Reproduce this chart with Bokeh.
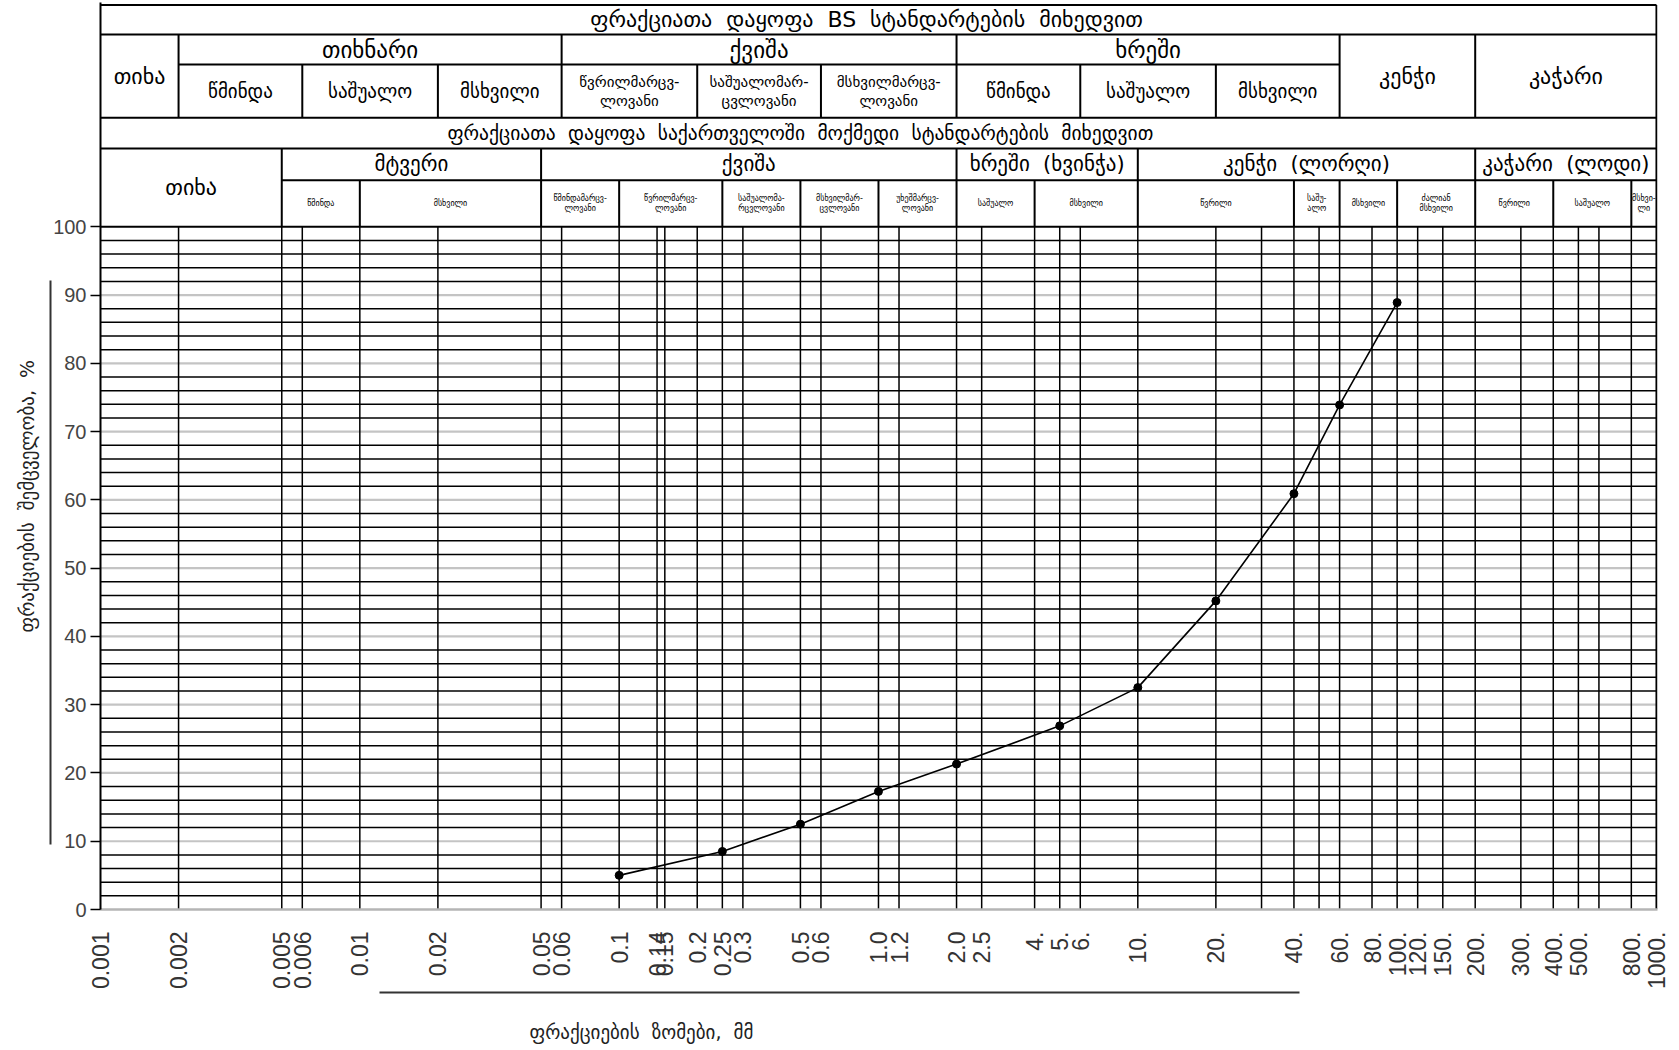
from math import pi
import numpy as np
from bokeh.plotting import figure
from bokeh.models import (Range1d, FixedTicker, ColumnDataSource, LogAxis, LinearAxis, Title)
from bokeh.core.properties import value
from bokeh.embed import file_html
from bokeh.resources import INLINE

# ---------------- data ----------------
size_mm = [0.1, 0.25, 0.5, 1.0, 2.0, 5.0, 10.0, 20.0, 40.0, 60.0, 100.0]
passing_pct = [5.0, 8.5, 12.5, 17.3, 21.3, 26.9, 32.5, 45.2, 60.9, 73.9, 88.9]

tick_values = [0.001, 0.002, 0.005, 0.006, 0.01, 0.02, 0.05, 0.06, 0.1, 0.14, 0.15,
               0.2, 0.25, 0.3, 0.5, 0.6, 1.0, 1.2, 2.0, 2.5, 4.0, 5.0, 6.0, 10.0,
               20.0, 40.0, 60.0, 80.0, 100.0, 120.0, 150.0, 200.0, 300.0, 400.0,
               500.0, 800.0, 1000.0]
tick_labels = ["0.001", "0.002", "0.005", "0.006", "0.01", "0.02", "0.05", "0.06",
               "0.1", "0.14", "0.15", "0.2", "0.25", "0.3", "0.5", "0.6", "1.0", "1.2",
               "2.0", "2.5", "4.", "5.", "6.", "10.", "20.", "40.", "60.", "80.",
               "100.", "120.", "150.", "200.", "300.", "400.", "500.", "800.", "1000."]
extra_grid_mm = [30.0, 50.0, 600.0]

pct_ticks = [0, 10, 20, 30, 40, 50, 60, 70, 80, 90, 100]
pct_labels = ["0", "10", "20", "30", "40", "50", "60", "70", "80", "90", "100"]

SP = "\u00a0\u00a0"
title_bs = SP.join(["ფრაქციათა", "დაყოფა", "BS", "სტანდარტების", "მიხედვით"])
title_ge = SP.join(["ფრაქციათა", "დაყოფა", "საქართველოში", "მოქმედი", "სტანდარტების", "მიხედვით"])
x_title = SP.join(["ფრაქციების", "ზომები,", "მმ"])
y_title = SP.join(["ფრაქციების", "შემცველობა,", "%"])

bs_single_names = ["თიხა", "კენჭი", "კაჭარი"]
bs_single_lo = [0.001, 60.0, 200.0]
bs_single_hi = [0.002, 200.0, 1000.0]
bs_group_names = ["თიხნარი", "ქვიშა", "ხრეში"]
bs_group_edges = [0.002, 0.06, 2.0, 60.0]
bs_sub_names = ["წმინდა", "საშუალო", "მსხვილი",
                "წვრილმარცვ-\nლოვანი", "საშუალომარ-\nცვლოვანი", "მსხვილმარცვ-\nლოვანი",
                "წმინდა", "საშუალო", "მსხვილი"]
bs_sub_edges = [0.002, 0.006, 0.02, 0.06, 0.2, 0.6, 2.0, 6.0, 20.0, 60.0]

ge_single_names = ["თიხა"]
ge_single_lo = [0.001]
ge_single_hi = [0.005]
ge_group_names = ["მტვერი", "ქვიშა", "ხრეში\u00a0\u00a0(ხვინჭა)", "კენჭი\u00a0\u00a0(ლორღი)",
                  "კაჭარი\u00a0\u00a0(ლოდი)"]
ge_group_edges = [0.005, 0.05, 2.0, 10.0, 200.0, 1000.0]
ge_sub_names = ["წმინდა", "მსხვილი",
                "წმინდამარცვ-\nლოვანი", "წვრილმარცვ-\nლოვანი", "საშუალომა-\nრცვლოვანი",
                "მსხვილმარ-\nცვლოვანი", "უხეშმარცვ-\nლოვანი",
                "საშუალო", "მსხვილი",
                "წვრილი", "საშუ-\nალო", "მსხვილი", "ძალიან\nმსხვილი",
                "წვრილი", "საშუალო", "მსხვი-\nლი"]
ge_sub_edges = [0.005, 0.01, 0.05, 0.1, 0.25, 0.5, 1.0, 2.0, 4.0, 10.0, 40.0, 60.0,
                100.0, 200.0, 400.0, 800.0, 1000.0]

# ---------------- layout constants ----------------
X_MIN, X_MAX = 0.001, 1000.0
Y_TOP = 132.85
ROW_TOP, ROW1, ROW2M, ROW2B, ROW3B, ROW4M, GRID_TOP = 132.5, 128.16, 123.77, 115.98, 111.48, 106.8, 100.0
GEO = "DejaVu Sans"
NUM = "'Liberation Sans Narrow', 'Liberation Sans', Arial, sans-serif"


def gmid(a, b):
    return float(np.sqrt(a * b))


p = figure(width=1671, height=1048, x_axis_type="log",
           x_range=Range1d(X_MIN, 10 ** 3.004), y_range=Range1d(0, Y_TOP),
           output_backend="svg", toolbar_location=None,
           min_border_left=97, min_border_right=14, min_border_top=2, min_border_bottom=138)
p.outline_line_color = None
p.xgrid.visible = False
p.ygrid.visible = False

# ---------- grid ----------
fine_y = [v for v in range(2, 100, 2) if v % 10]
gray_y = [v for v in range(10, 100, 10)]
p.segment(x0=[X_MIN] * len(gray_y), y0=gray_y, x1=[X_MAX] * len(gray_y), y1=gray_y,
          line_color="#c4c4c4", line_width=2.2)
p.segment(x0=[X_MIN] * len(fine_y), y0=fine_y, x1=[X_MAX] * len(fine_y), y1=fine_y,
          line_color="black", line_width=1.5)
vx = tick_values[1:-1] + extra_grid_mm
p.segment(x0=vx, y0=[0] * len(vx), x1=vx, y1=[GRID_TOP] * len(vx),
          line_color="black", line_width=1.5)

# ---------- header frame ----------
hx0, hy0, hx1, hy1 = [], [], [], []


def hline(y, a=X_MIN, b=X_MAX):
    hx0.append(a); hx1.append(b); hy0.append(y); hy1.append(y)


def vline(x, a, b):
    hx0.append(x); hx1.append(x); hy0.append(a); hy1.append(b)


for y in (ROW_TOP, ROW1, ROW2B, ROW3B, GRID_TOP):
    hline(y)
hline(ROW2M, bs_group_edges[0], bs_group_edges[-1])
hline(ROW4M, ge_group_edges[0], ge_group_edges[-1])
vline(X_MAX, 0, ROW_TOP)
for x in sorted(set(bs_single_lo[1:] + bs_group_edges)):
    vline(x, ROW2B, ROW1)
for x in bs_sub_edges:
    if x not in bs_group_edges:
        vline(x, ROW2B, ROW2M)
for x in ge_group_edges[:-1]:
    vline(x, GRID_TOP, ROW3B)
for x in ge_sub_edges:
    if x not in ge_group_edges:
        vline(x, GRID_TOP, ROW4M)
p.segment(x0=hx0, y0=hy0, x1=hx1, y1=hy1, line_color="black", line_width=2)

# ---------- header texts ----------
txt = dict(text_align="center", text_baseline="middle", text_color="black",
           text_font=value(GEO))
p.text(x=[gmid(X_MIN, X_MAX) * 0.9], y=[(ROW_TOP + ROW1) / 2], text=[title_bs],
       text_font_size="22px", **txt)
p.text(x=[gmid(X_MIN, X_MAX) * 0.5], y=[(ROW2B + ROW3B) / 2], text=[title_ge],
       text_font_size="19.5px", **txt)

p.text(x=[gmid(a, b) for a, b in zip(bs_single_lo, bs_single_hi)],
       y=[(ROW1 + ROW2B) / 2] * len(bs_single_names), text=bs_single_names,
       text_font_size="22px", **txt)
p.text(x=[gmid(a, b) for a, b in zip(bs_group_edges[:-1], bs_group_edges[1:])],
       y=[(ROW1 + ROW2M) / 2] * len(bs_group_names), text=bs_group_names,
       text_font_size="23px", **txt)
bs_sx = [gmid(a, b) for a, b in zip(bs_sub_edges[:-1], bs_sub_edges[1:])]
one = [i for i, n in enumerate(bs_sub_names) if "\n" not in n]
two = [i for i, n in enumerate(bs_sub_names) if "\n" in n]
p.text(x=[bs_sx[i] for i in one], y=[(ROW2M + ROW2B) / 2] * len(one),
       text=[bs_sub_names[i] for i in one], text_font_size="19px", **txt)
p.text(x=[bs_sx[i] for i in two], y=[(ROW2M + ROW2B) / 2] * len(two),
       text=[bs_sub_names[i] for i in two], text_font_size="15px", text_line_height=1.05, **txt)

p.text(x=[gmid(a, b) for a, b in zip(ge_single_lo, ge_single_hi)],
       y=[(ROW3B + GRID_TOP) / 2] * len(ge_single_names), text=ge_single_names,
       text_font_size="22px", **txt)
p.text(x=[gmid(a, b) for a, b in zip(ge_group_edges[:-1], ge_group_edges[1:])],
       y=[(ROW3B + ROW4M) / 2] * len(ge_group_names), text=ge_group_names,
       text_font_size="21px", **txt)
p.text(x=[gmid(a, b) for a, b in zip(ge_sub_edges[:-1], ge_sub_edges[1:])],
       y=[(ROW4M + GRID_TOP) / 2] * len(ge_sub_names), text=ge_sub_names,
       text_font_size="8px", text_line_height=1.1, **txt)

# ---------- curve ----------
src = ColumnDataSource(dict(x=size_mm, y=passing_pct))
p.line("x", "y", source=src, line_color="black", line_width=1.6)
p.scatter("x", "y", source=src, size=8, color="black")

# ---------- axes ----------
ya = p.yaxis[0]
ya.ticker = FixedTicker(ticks=pct_ticks)
ya.major_label_overrides = {t: l for t, l in zip(pct_ticks, pct_labels)}
ya.major_tick_out = 10
ya.major_tick_in = 0
ya.minor_tick_out = 0
ya.minor_tick_in = 0
ya.axis_line_color = "black"
ya.axis_line_width = 2
ya.major_tick_line_width = 1.5
ya.major_label_standoff = 4
ya.major_label_text_font = NUM
ya.major_label_text_font_size = "20px"
ya.major_label_text_color = "#444444"

xa = p.xaxis[0]
xa.ticker = FixedTicker(ticks=tick_values)
xa.major_label_overrides = {t: l for t, l in zip(tick_values, tick_labels)}
xa.major_label_orientation = pi / 2
xa.major_tick_out = 0
xa.major_tick_in = 0
xa.minor_tick_out = 0
xa.minor_tick_in = 0
xa.axis_line_color = "#b5b5b5"
xa.axis_line_width = 2.5
xa.major_label_standoff = 22
xa.major_label_text_font = NUM
xa.major_label_text_font_size = "23px"
xa.major_label_text_color = "#333333"

# ---------- decorative rules & titles (outside the frame) ----------
deco_x = LogAxis(ticker=FixedTicker(ticks=[]), bounds=(0.0119, 42.0),
                 axis_line_color="#333333", axis_line_width=2,
                 major_tick_out=0, major_tick_in=0, minor_tick_out=0, minor_tick_in=0,
                 major_label_text_font_size="0px",
                 axis_label="\u00a0", axis_label_standoff=16,
                 axis_label_text_font_size="1px")
p.add_layout(deco_x, "below")
p.add_layout(Title(text=x_title, align="left", offset=429, standoff=12,
                   text_font=GEO, text_font_size="19px", text_font_style="normal",
                   text_color="#222222"), "below")

deco_y = LinearAxis(ticker=FixedTicker(ticks=[]), bounds=(9.5, 92.2),
                    axis_line_color="#333333", axis_line_width=2,
                    major_tick_out=0, major_tick_in=0, minor_tick_out=0, minor_tick_in=0,
                    major_label_text_font_size="0px")
p.add_layout(deco_y, "left")
p.add_layout(Title(text=y_title, align="left", offset=277, standoff=26,
                   text_font=GEO, text_font_size="19px", text_font_style="normal",
                   text_color="#222222"), "left")

open("out.html", "w").write(file_html(p, INLINE))
